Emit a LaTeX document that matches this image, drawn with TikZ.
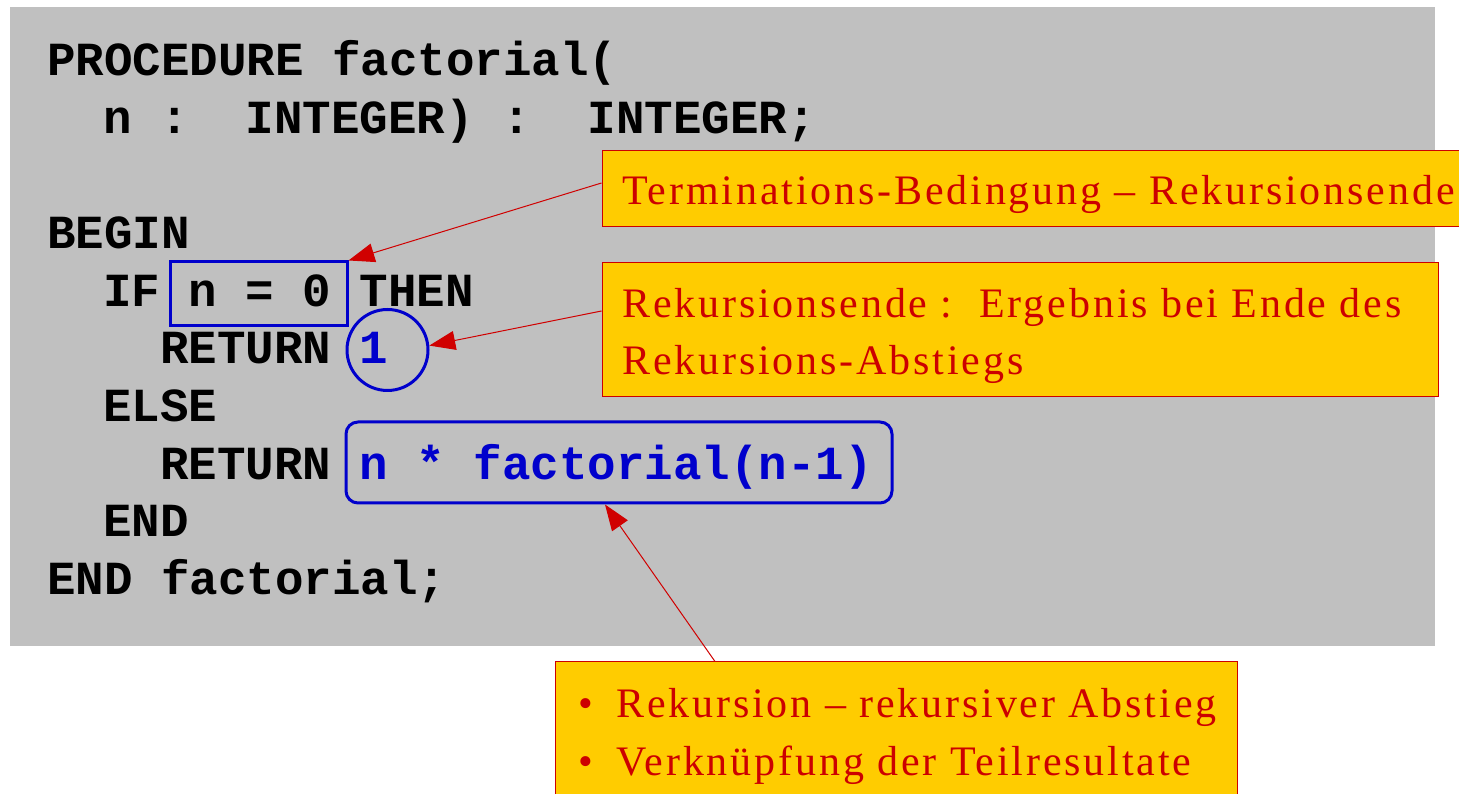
\documentclass[tikz,border=0pt]{standalone}
\usepackage{fontspec}
\usetikzlibrary{arrows.meta}
\newfontfamily\codefont{Liberation Mono}
\newfontfamily\notefont{Liberation Serif}[LetterSpace=6.8]
\definecolor{bggray}{HTML}{C0C0C0}
\definecolor{noteyellow}{HTML}{FFCC00}
\definecolor{notered}{HTML}{CC0000}
\definecolor{arrowred}{HTML}{D00000}
\definecolor{codeblue}{HTML}{0000CC}
\tikzset{
  codeline/.style={anchor=base west, inner sep=0pt, font=\codefont\bfseries\fontsize{47.5}{57}\selectfont},
  notetext/.style={anchor=base west, inner sep=0pt, text=notered, font=\notefont\fontsize{42}{57}\selectfont},
  notebox/.style={draw=notered, line width=1pt, fill=noteyellow, inner sep=0pt},
  hlbox/.style={draw=codeblue, line width=3pt, inner sep=0pt},
  pointer/.style={draw=arrowred, line width=1pt, -{Triangle[length=26pt,width=19pt]}, arrowred}
}
\begin{document}
\begin{tikzpicture}[x=1pt,y=1pt]
\useasboundingbox (0,0) rectangle (1459,794);
\fill[white] (0,0) rectangle (1459,794);
\fill[bggray] (10,148) rectangle (1435,787);
% code
\node[codeline] (l1) at (47,718) {PROCEDURE factorial(};
\node[codeline] (l2) at (103,660) {n :\ \ INTEGER) :\ \ INTEGER;};
\node[codeline] (l3) at (47,545) {BEGIN};
\node[codeline] (l4) at (103,487) {IF n = 0 THEN};
\node[codeline] (l5) at (160,430) {RETURN \textcolor{codeblue}{1}};
\node[codeline] (l6) at (103,372) {ELSE};
\node[codeline] (l7) at (160,314) {RETURN \textcolor{codeblue}{n * factorial(n-1)}};
\node[codeline] (l8) at (103,257) {END};
\node[codeline] (l9) at (47,199) {END factorial;};
% highlights
\node[hlbox, minimum width=177pt, minimum height=64pt] (cond) at (258.5,500) {};
\node[hlbox, circle, minimum size=81pt] (one) at (387.5,444) {};
\node[hlbox, rounded corners=12pt, minimum width=546pt, minimum height=81pt] (rec) at (619,331.5) {};
% notes
\node[notebox, minimum width=860pt, minimum height=76pt] (term) at (1032,605) {};
\node[notetext] (t1) at (622,589) {Terminations-Bedingung – Rekursionsende};
\node[notebox, minimum width=836pt, minimum height=134pt] (ende) at (1020,464) {};
\node[notetext] (t2) at (622,476) {Rekursionsende :\ \ Ergebnis bei Ende des};
\node[notetext] (t3) at (622,419) {Rekursions-Abstiegs};
\node[notebox, minimum width=682pt, minimum height=138pt] (res) at (896,63) {};
\node[notetext] (t4) at (578,76) {\makebox[38pt][l]{•}Rekursion – rekursiver Abstieg};
\node[notetext] (t5) at (578,18) {\makebox[38pt][l]{•}Verknüpfung der Teilresultate};
% pointers
\draw[pointer] ([yshift=6pt]term.west) -- (cond.north east);
\draw[pointer] ([yshift=19pt]ende.west) -- (one.6);
\draw[pointer] ([xshift=-181pt]res.north) -- ([xshift=-14pt]rec.south);
\end{tikzpicture}
\end{document}
